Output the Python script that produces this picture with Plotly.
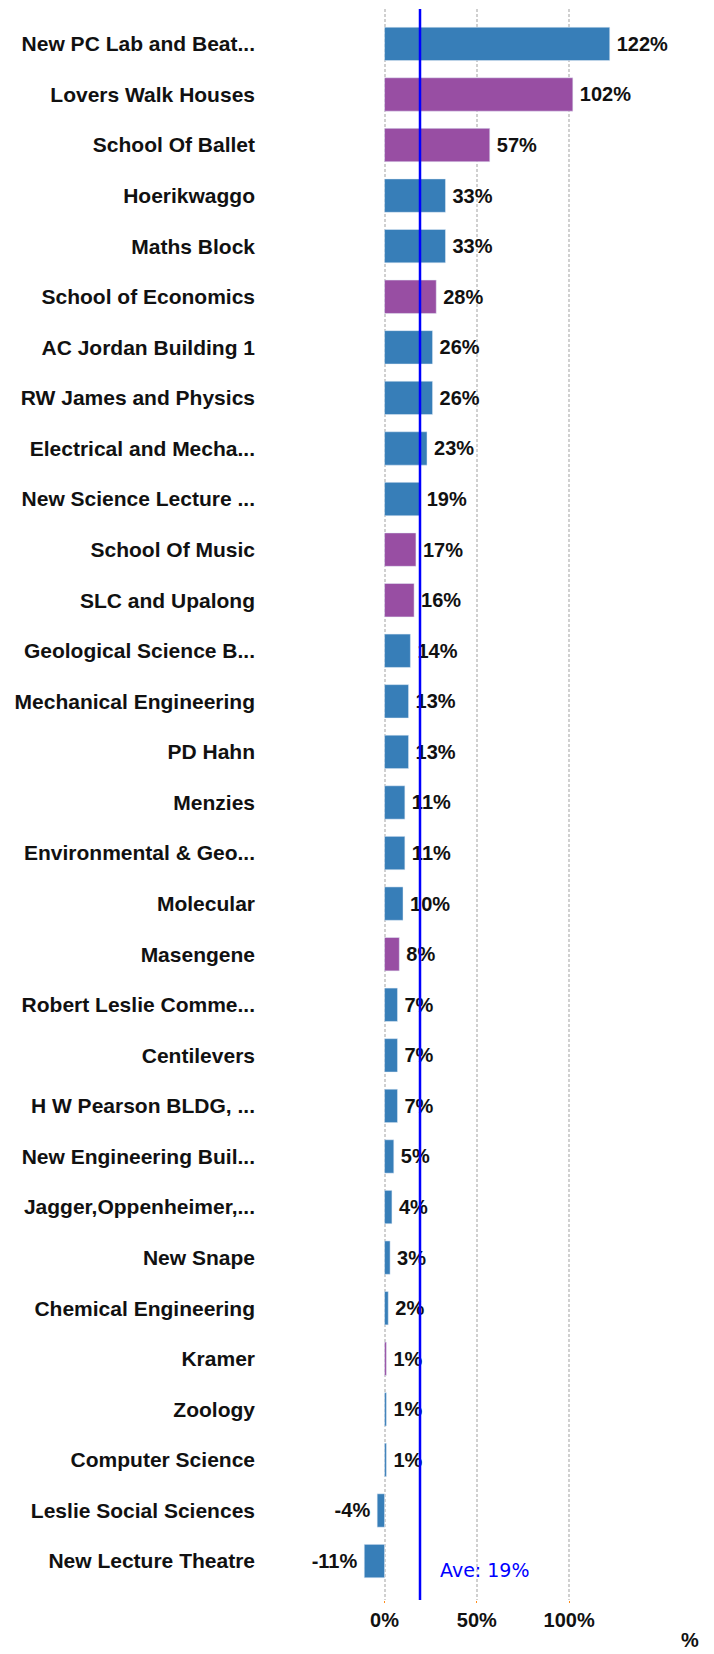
import plotly.graph_objects as go

# buildings, % change and group colour, top to bottom
buildings = ["New PC Lab and Beat...", "Lovers Walk Houses", "School Of Ballet", "Hoerikwaggo",
             "Maths Block", "School of Economics", "AC Jordan Building 1", "RW James and Physics",
             "Electrical and Mecha...", "New Science Lecture ...", "School Of Music", "SLC and Upalong",
             "Geological Science B...", "Mechanical Engineering", "PD Hahn", "Menzies",
             "Environmental & Geo...", "Molecular", "Masengene", "Robert Leslie Comme...",
             "Centilevers", "H W Pearson BLDG, ...", "New Engineering Buil...", "Jagger,Oppenheimer,...",
             "New Snape", "Chemical Engineering", "Kramer", "Zoology", "Computer Science",
             "Leslie Social Sciences", "New Lecture Theatre"]
change = [122, 102, 57, 33, 33, 28, 26, 26, 23, 19, 17, 16, 14, 13, 13, 11, 11, 10, 8, 7, 7, 7,
          5, 4, 3, 2, 1, 1, 1, -4, -11]
group = ["b", "p", "p", "b", "b", "p", "b", "b", "b", "b", "p", "p", "b", "b", "b", "b", "b", "b",
         "p", "b", "b", "b", "b", "b", "b", "b", "p", "b", "b", "b", "b"]
average = 19.2
x_ticks = [0, 50, 100]

colours = {"b": "#377eb8", "p": "#984ea3"}
bold = dict(family="Liberation Sans", color="#111111", weight="bold")

# thin space keeps the value label a little further from the bar end
labels = [f"\u2009{v}%" if v >= 0 else f"{v}%\u2009" for v in change]

fig = go.Figure()
fig.add_trace(go.Bar(
    y=buildings, x=change, orientation="h",
    marker_color=[colours[g] for g in group],
    width=0.66,
    text=labels, textposition="outside",
    textfont=dict(size=20, **bold),
    cliponaxis=False,
))

fig.add_shape(type="line", x0=average, x1=average, xref="x", y0=0, y1=1, yref="paper",
              line=dict(color="#0000ff", width=2.5), layer="above")
fig.add_annotation(x=average, y=0.0105, xref="x", yref="paper", xshift=18,
                   text=f"Ave: {round(average)}%", showarrow=False, xanchor="left",
                   font=dict(family="DejaVu Sans", size=19, color="#0000ff"))
fig.add_annotation(x=1, y=0, xref="paper", yref="paper", yshift=-40, xshift=1,
                   text="%", showarrow=False, xanchor="right", yanchor="middle",
                   font=dict(size=20, **bold))

# page body adds an 8px margin, so the figure is 8px smaller than the window
fig.update_layout(
    width=706, height=1646,
    margin=dict(l=254, r=14, t=1, b=54),
    plot_bgcolor="white", paper_bgcolor="white",
    showlegend=False,
)
fig.update_xaxes(
    range=[-66.4, 170.9], tickvals=x_ticks, ticktext=[f"{t}%" for t in x_ticks],
    showgrid=True, gridcolor="#d0d0d0", griddash="3px,2px", gridwidth=1.5,
    zeroline=False, showline=False, automargin=False,
    ticks="outside", ticklen=2, tickcolor="#ff8c1a",
    tickfont=dict(size=20, **bold),
)
fig.update_yaxes(
    range=[30.77, -0.69], showgrid=False, zeroline=False, showline=False, automargin=False,
    ticklabelstandoff=6,
    tickfont=dict(size=21, **bold),
)

fig.write_html("out.html")
